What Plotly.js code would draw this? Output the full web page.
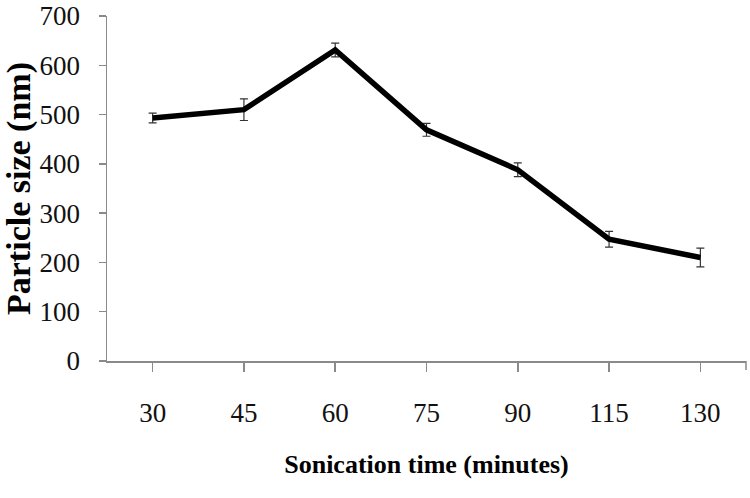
<!DOCTYPE html>
<html>
<head>
<meta charset="utf-8">
<script src="https://cdn.plot.ly/plotly-3.0.1.min.js"></script>
<style>html,body{margin:0;padding:0;background:#fff;}#chart{width:750px;height:498px;}</style>
</head>
<body>
<div id="chart"></div>
<script>
const sonicationTime = ["30", "45", "60", "75", "90", "115", "130"];
const particleSize = [493, 510, 631, 469, 388, 247, 210];
const sizeError = [10, 22, 14, 13, 14, 16, 19];

const trace = {
  x: sonicationTime,
  y: particleSize,
  type: "scatter",
  mode: "lines",
  line: {color: "#000000", width: 5.5},
  error_y: {type: "data", array: sizeError, visible: true, color: "#333333", thickness: 1.2, width: 4},
  hoverinfo: "skip"
};

const layout = {
  width: 750,
  height: 498,
  margin: {l: 107, r: 4, t: 16, b: 137},
  paper_bgcolor: "#ffffff",
  plot_bgcolor: "#ffffff",
  showlegend: false,
  font: {family: "Liberation Serif, Times New Roman, serif", color: "#000000"},
  xaxis: {
    type: "category",
    range: [-0.5, 6.5],
    showline: true,
    linecolor: "#8a8a8a",
    linewidth: 1.5,
    ticks: "outside",
    ticklen: 9,
    tickcolor: "#8a8a8a",
    tickwidth: 1.5,
    ticklabelstandoff: 18,
    showgrid: false,
    zeroline: false,
    tickfont: {size: 27, family: "Liberation Serif", color: "#111111"},
    title: {text: "<b>Sonication time (minutes)</b>", font: {size: 26, family: "Liberation Serif", color: "#000000"}, standoff: 28}
  },
  yaxis: {
    range: [0, 700],
    tickvals: [0, 100, 200, 300, 400, 500, 600, 700],
    showline: true,
    linecolor: "#8a8a8a",
    linewidth: 1.5,
    ticks: "outside",
    ticklen: 7,
    tickcolor: "#8a8a8a",
    tickwidth: 1.5,
    ticklabelstandoff: 13,
    showgrid: false,
    zeroline: false,
    tickfont: {size: 27, family: "Liberation Serif", color: "#111111"},
    title: {text: "<b>Particle size (nm)</b>", font: {size: 34, family: "Liberation Serif", color: "#000000"}, standoff: 6}
  },
  shapes: [
    {type: "line", xref: "paper", yref: "paper", x0: 1, x1: 1, y0: 0, y1: -0.026, line: {color: "#8a8a8a", width: 1.5}}
  ]
};

Plotly.newPlot("chart", [trace], layout, {staticPlot: true, displayModeBar: false});
</script>
</body>
</html>
